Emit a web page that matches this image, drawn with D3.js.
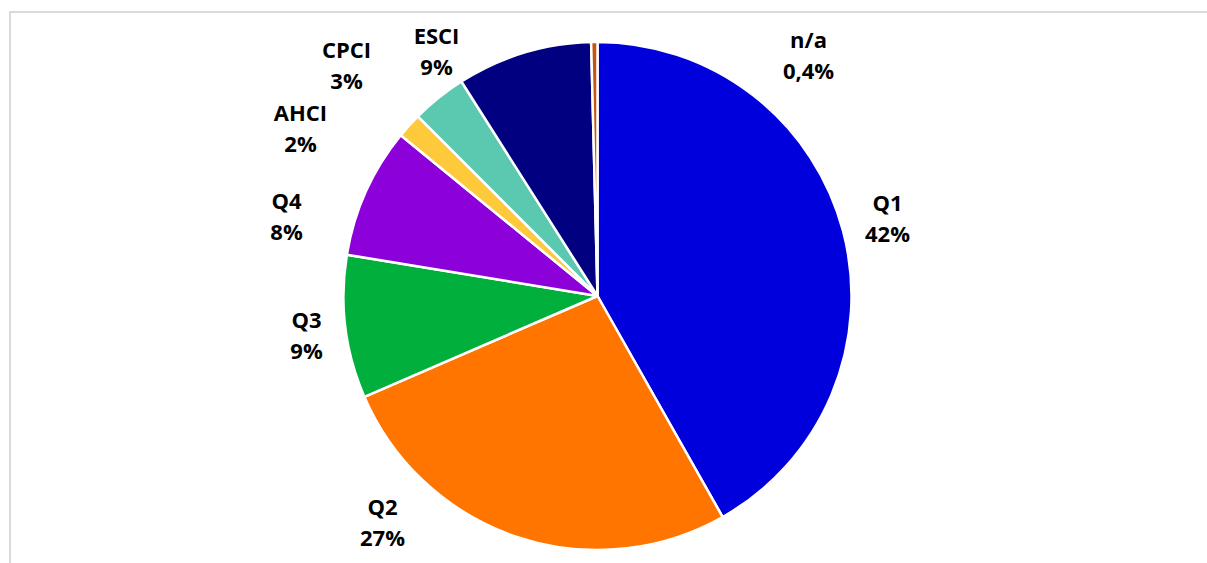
<!DOCTYPE html>
<html>
<head>
<meta charset="utf-8">
<script src="https://cdn.jsdelivr.net/npm/d3@7"></script>
<style>
html,body{margin:0;padding:0;background:#fff;}
svg{display:block;}
</style>
</head>
<body>
<svg id="chart" width="1207" height="563"></svg>
<script>
// Data
const categories = ["Q1", "Q2", "Q3", "Q4", "AHCI", "CPCI", "ESCI", "n/a"];
const values = [41.8, 26.7, 9.1, 8.3, 1.6, 3.5, 8.6, 0.4];
const valueLabels = ["42%", "27%", "9%", "8%", "2%", "3%", "9%", "0,4%"];
const colors = ["#0000DC", "#FF7500", "#00AF3C", "#8C00DA", "#FFC93C", "#5BC8B0", "#000080", "#C5540E"];

// Layout (label centre offsets from pie centre, px)
const labelOffsets = [
  [290, -78], [-215, 226], [-291, 39], [-311, -80],
  [-297, -168], [-251, -231], [-161, -245], [211, -241]
];

const svg = d3.select("#chart");
const W = 1207, H = 563;
const cx = 597.5, cy = 296, r = 254;

// frame
svg.append("rect")
  .attr("x", 10).attr("y", 12)
  .attr("width", W + 20).attr("height", H + 20)
  .attr("fill", "none").attr("stroke", "#d9d9d9").attr("stroke-width", 2);

const data = categories.map((c, i) => ({cat: c, value: values[i], label: valueLabels[i], color: colors[i], off: labelOffsets[i]}));

const pie = d3.pie().sort(null).value(d => d.value);
const arc = d3.arc().innerRadius(0).outerRadius(r);

const g = svg.append("g").attr("transform", `translate(${cx},${cy})`);

g.selectAll("path.slice")
  .data(pie(data))
  .join("path")
  .attr("class", "slice")
  .attr("d", arc)
  .attr("fill", d => d.data.color)
  .attr("stroke", "#fff")
  .attr("stroke-width", 2.5)
  .attr("stroke-linejoin", "round");

const lbl = g.selectAll("g.lbl")
  .data(data)
  .join("g")
  .attr("class", "lbl")
  .attr("transform", d => `translate(${d.off[0]},${d.off[1]})`);

lbl.append("text")
  .attr("text-anchor", "middle")
  .attr("y", -7)
  .attr("font-family", "'Open Sans', 'Noto Sans', sans-serif")
  .attr("font-weight", 700)
  .attr("font-size", 22)
  .attr("fill", "#000")
  .text(d => d.cat);

lbl.append("text")
  .attr("text-anchor", "middle")
  .attr("y", 24)
  .attr("font-family", "'Open Sans', 'Noto Sans', sans-serif")
  .attr("font-weight", 700)
  .attr("font-size", 22)
  .attr("fill", "#000")
  .text(d => d.label);
</script>
</body>
</html>
